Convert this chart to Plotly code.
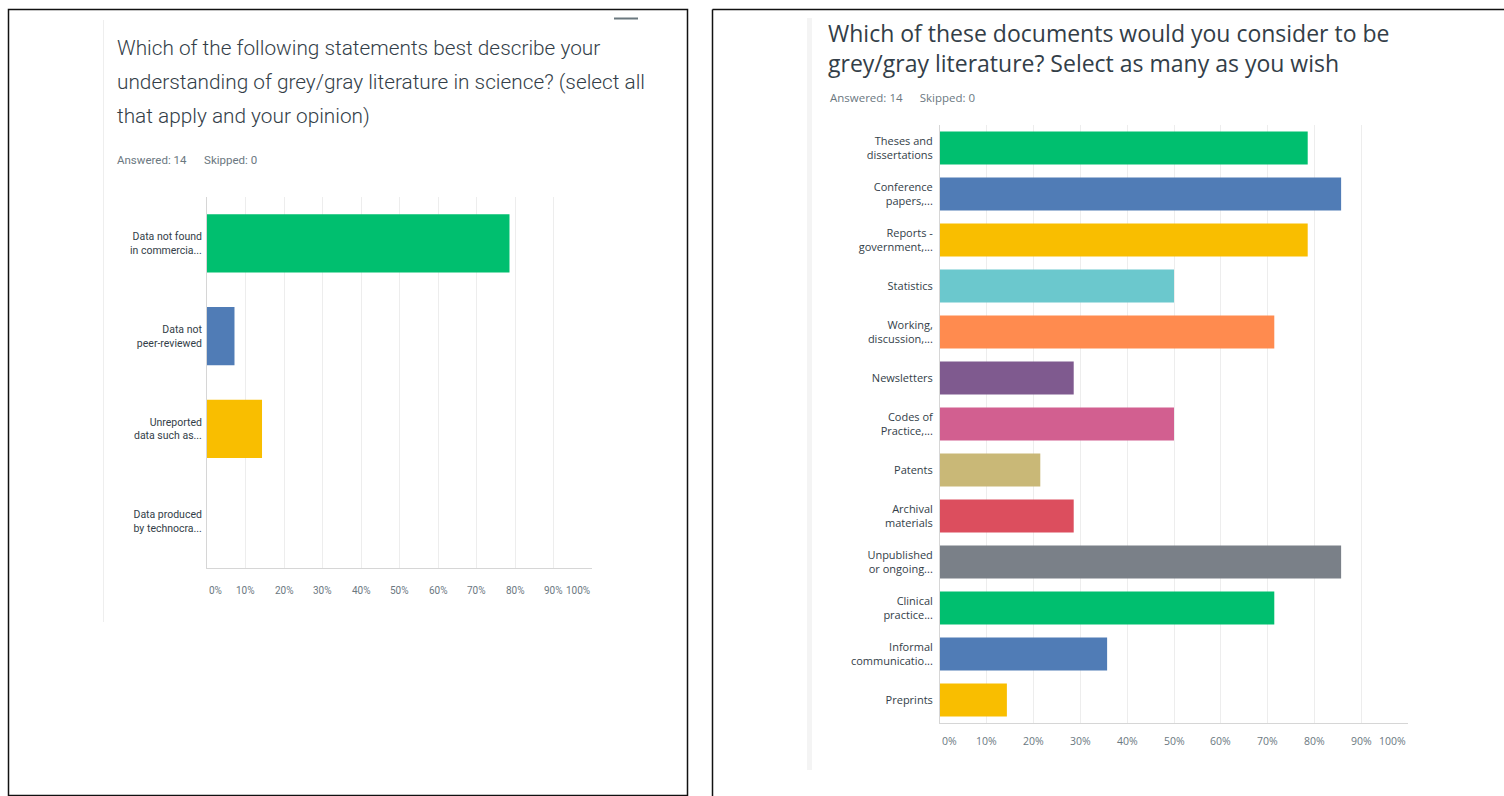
import plotly.graph_objects as go

W, H = 1504, 796

# ---------------- data ----------------
left_categories = ["Data not found<br>in commercia...", "Data not<br>peer-reviewed",
                   "Unreported<br>data such as...", "Data produced<br>by technocra..."]
left_values = [78.57, 7.14, 14.29, 0.0]
left_colors = ["#00bf6f", "#507cb6", "#f9be00", "#6bc8cd"]

right_categories = ["Theses and<br>dissertations", "Conference<br>papers,...",
                    "Reports -<br>government,...", "Statistics", "Working,<br>discussion,...",
                    "Newsletters", "Codes of<br>Practice,...", "Patents", "Archival<br>materials",
                    "Unpublished<br>or ongoing...", "Clinical<br>practice...",
                    "Informal<br>communicatio...", "Preprints"]
right_values = [78.57, 85.71, 78.57, 50.0, 71.43, 28.57, 50.0, 21.43, 28.57, 85.71, 71.43, 35.71, 14.29]
right_colors = ["#00bf6f", "#507cb6", "#f9be00", "#6bc8cd", "#ff8b4f", "#7f5a8f", "#d25f90",
                "#c9b877", "#dc4e5e", "#7a8088", "#00bf6f", "#507cb6", "#f9be00"]

tick_vals = [0, 10, 20, 30, 40, 50, 60, 70, 80, 90, 100]
tick_text = ["0%", "10%", "20%", "30%", "40%", "50%", "60%", "70%", "80%", "90%", "100%"]

left_title = ["Which of the following statements best describe your",
              "understanding of grey/gray literature in science? (select all",
              "that apply and your opinion)"]
right_title = ["Which of these documents would you consider to be",
               "grey/gray literature? Select as many as you wish"]
answered_text = "Answered: 14\u2003\u2002Skipped: 0"

# ---------------- helpers ----------------
def px(x):
    return x / W

def py(y):
    return 1 - y / H

COND = "Roboto, sans-serif"
REG = "Open Sans, Noto Sans, sans-serif"
TXT = "#333e48"
SUB = "#6b787f"
GRID = "#ededed"
AXL = "#d6d6d6"

fig = go.Figure()

fig.add_trace(go.Bar(x=left_values, y=left_categories, orientation="h",
                     marker=dict(color=left_colors, line=dict(width=0)),
                     width=0.63, xaxis="x", yaxis="y", hoverinfo="x+y", showlegend=False))
fig.add_trace(go.Bar(x=right_values, y=right_categories, orientation="h",
                     marker=dict(color=right_colors, line=dict(width=0)),
                     width=0.72, xaxis="x2", yaxis="y2", hoverinfo="x+y", showlegend=False))

L_x0, L_x1, L_y0, L_y1 = 207, 592, 197, 568
R_x0, R_x1, R_y0, R_y1 = 940, 1408, 125, 723

xcommon = dict(range=[0, 100], tickvals=tick_vals, showticklabels=False, showgrid=True,
               gridcolor=GRID, gridwidth=1, zeroline=False, showline=True, linecolor=AXL,
               linewidth=1, fixedrange=True)
fig.update_layout(
    width=W, height=H, autosize=False,
    margin=dict(l=0, r=0, t=0, b=0),
    paper_bgcolor="white", plot_bgcolor="white",
    bargap=0.3,
    xaxis=dict(domain=[px(L_x0), px(L_x1)], anchor="y", **xcommon),
    yaxis=dict(domain=[py(L_y1), py(L_y0)], anchor="x", autorange="reversed",
               showgrid=False, zeroline=False, showline=True, linecolor=AXL,
               ticks="", ticklabelstandoff=2, fixedrange=True,
               tickfont=dict(family=COND, size=10.5, color=TXT)),
    xaxis2=dict(domain=[px(R_x0), px(R_x1)], anchor="y2", **xcommon),
    yaxis2=dict(domain=[py(R_y1), py(R_y0)], anchor="x2", autorange="reversed",
                showgrid=False, zeroline=False, showline=True, linecolor=AXL,
                ticks="", ticklabelstandoff=4, fixedrange=True,
                tickfont=dict(family=REG, size=11, color=TXT)),
)

ann = []
# x tick labels (SurveyMonkey style: first left-aligned, last right-aligned)
for v, t in zip(tick_vals, tick_text):
    anchor = "left" if v == 0 else ("right" if v == 100 else "center")
    ann.append(dict(x=v, y=py(590), xref="x", yref="paper", text=t, showarrow=False,
                    xanchor=anchor, yanchor="middle",
                    font=dict(family=COND, size=10, color=SUB)))
    ann.append(dict(x=v, y=py(741), xref="x2", yref="paper", text=t, showarrow=False,
                    xanchor=anchor, yanchor="middle",
                    font=dict(family=REG, size=10.5, color=SUB)))

for i, line in enumerate(left_title):
    ann.append(dict(x=px(115), y=py(48 + i * 34), xref="paper", yref="paper", text=line,
                    showarrow=False, xanchor="left", yanchor="middle",
                    font=dict(family=COND, size=20.8, color=TXT, weight=300)))
ann.append(dict(x=px(826), y=py(48), xref="paper", yref="paper", text="<br>".join(right_title),
                showarrow=False, xanchor="left", yanchor="middle", align="left",
                font=dict(family=REG, size=23, color=TXT)))

ann.append(dict(x=px(115), y=py(160), xref="paper", yref="paper", text=answered_text,
                showarrow=False, xanchor="left", yanchor="middle",
                font=dict(family=COND, size=11.5, color=SUB)))
ann.append(dict(x=px(828), y=py(97), xref="paper", yref="paper", text=answered_text,
                showarrow=False, xanchor="left", yanchor="middle",
                font=dict(family=REG, size=11.5, color=SUB)))

shapes = [
    # outer frames
    dict(type="rect", xref="paper", yref="paper", x0=px(8.5), x1=px(687.5), y0=py(795.5), y1=py(9.5),
         line=dict(color="#111111", width=1.5)),
    dict(type="line", xref="paper", yref="paper", x0=px(712.5), x1=px(1504), y0=py(9.5), y1=py(9.5),
         line=dict(color="#111111", width=1.5)),
    dict(type="line", xref="paper", yref="paper", x0=px(712.5), x1=px(712.5), y0=py(9.5), y1=py(796),
         line=dict(color="#111111", width=1.5)),
    # light panel edges
    dict(type="line", xref="paper", yref="paper", x0=px(103.5), x1=px(103.5), y0=py(20), y1=py(622),
         line=dict(color="#eeeeee", width=1)),
    dict(type="rect", xref="paper", yref="paper", x0=px(807), x1=px(812), y0=py(18), y1=py(770),
         line=dict(width=0), fillcolor="#f4f4f4"),
    # small dash at top of left panel
    dict(type="line", xref="paper", yref="paper", x0=px(614), x1=px(638), y0=py(18.5), y1=py(18.5),
         line=dict(color="#6b787f", width=2)),
]

fig.update_layout(annotations=ann, shapes=shapes)
fig.write_html("out.html", config={"displayModeBar": False},
               post_script="document.body.style.margin='0';document.body.style.overflow='hidden';")
